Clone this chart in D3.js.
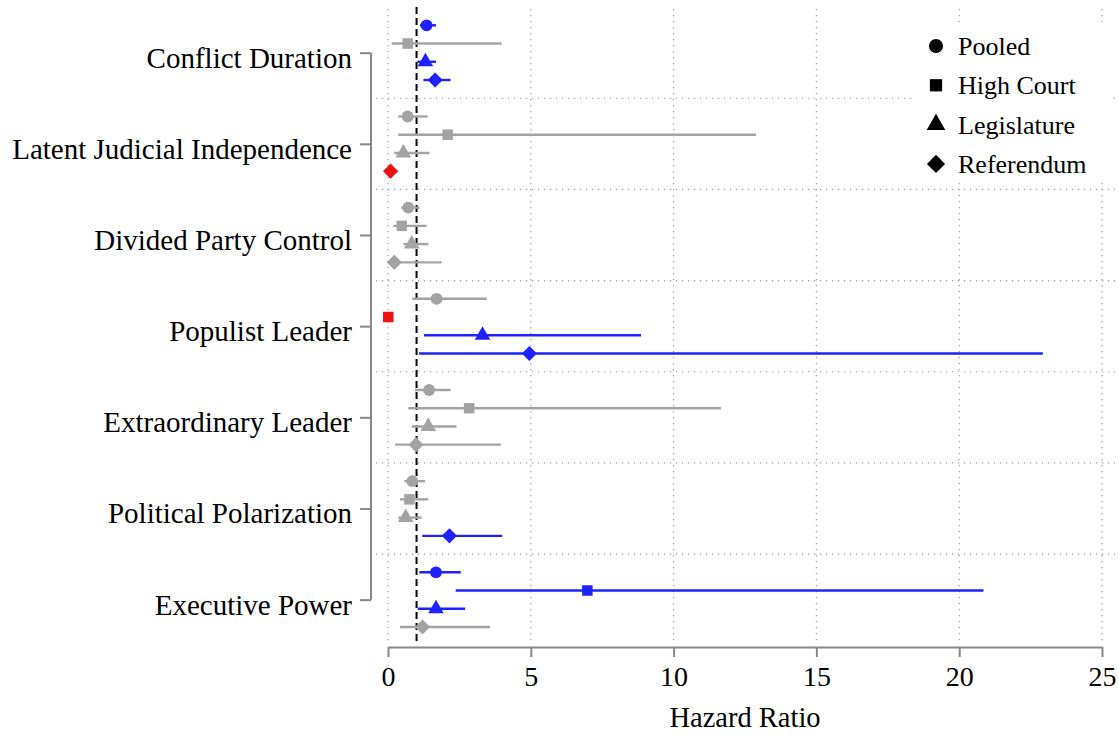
<!DOCTYPE html>
<html>
<head>
<meta charset="utf-8">
<script src="https://cdn.jsdelivr.net/npm/d3@7"></script>
<style>
  body { margin: 0; background: #fff; }
  text { font-family: "Liberation Serif", "DejaVu Serif", serif; fill: #000; }
</style>
</head>
<body>
<svg id="chart" width="1118" height="733"></svg>
<script>
// covariates (top to bottom)
var categories = ["Conflict Duration", "Latent Judicial Independence", "Divided Party Control",
  "Populist Leader", "Extraordinary Leader", "Political Polarization", "Executive Power"];
// models
var series = ["Pooled", "High Court", "Legislature", "Referendum"];
// hazard ratios, one array per model, in category order
var pooledHR      = [1.35, 0.69, 0.71, 1.70, 1.44, 0.85, 1.68];
var pooledLo      = [1.12, 0.36, 0.46, 0.85, 0.95, 0.57, 1.10];
var pooledHi      = [1.68, 1.39, 1.10, 3.46, 2.19, 1.30, 2.55];
var highCourtHR   = [0.69, 2.09, 0.48, 0.01, 2.84, 0.75, 6.98];
var highCourtLo   = [0.13, 0.36, 0.19, 0.00, 0.71, 0.42, 2.37];
var highCourtHi   = [3.98, 12.88, 1.35, 0.02, 11.66, 1.41, 20.85];
var legislatureHR = [1.31, 0.54, 0.83, 3.31, 1.41, 0.62, 1.68];
var legislatureLo = [1.03, 0.22, 0.54, 1.26, 0.83, 0.36, 1.04];
var legislatureHi = [1.68, 1.45, 1.41, 8.86, 2.40, 1.18, 2.70];
var referendumHR  = [1.65, 0.09, 0.22, 4.95, 0.98, 2.15, 1.21];
var referendumLo  = [1.24, 0.02, 0.07, 1.09, 0.25, 1.20, 0.42];
var referendumHi  = [2.19, 0.33, 1.88, 22.93, 3.95, 4.00, 3.57];
var xTicks = [0, 5, 10, 15, 20, 25];

var hr = [pooledHR, highCourtHR, legislatureHR, referendumHR];
var lo = [pooledLo, highCourtLo, legislatureLo, referendumLo];
var hi = [pooledHi, highCourtHi, legislatureHi, referendumHi];

var rows = [];
categories.forEach(function (c, g) {
  series.forEach(function (s, k) {
    rows.push({ cat: c, g: g, k: k, est: hr[k][g], lo: lo[k][g], hi: hi[k][g], pos: g * 5 + k });
  });
});

var svg = d3.select('#chart');
var x = d3.scaleLinear().domain([0, 25]).range([388, 1102]);
var y = d3.scaleLinear().domain([0, 33]).range([25.3, 627]);

// diamond = square turned 45 degrees
var symbols = [d3.symbolCircle, d3.symbolSquare, d3.symbolTriangle, d3.symbolSquare];
var rotations = [0, 0, 0, 45];
var sizes = [110, 110, 105, 115];
var legendSizes = [155, 150, 150, 165];
function colorOf(d) {
  if (d.lo > 1) return "#1f22ff";
  if (d.hi < 1) return "#ee1111";
  return "#a3a3a3";
}

// vertical grid
svg.append('g').selectAll('line').data(xTicks).enter().append('line')
  .attr('x1', function (d) { return x(d); }).attr('x2', function (d) { return x(d); })
  .attr('y1', 9).attr('y2', 641)
  .attr('stroke', '#9a9a9a').attr('stroke-width', 1.2).attr('stroke-dasharray', '1.2,4.8');

// horizontal grid between groups
svg.append('g').selectAll('line').data(d3.range(1, categories.length)).enter().append('line')
  .attr('x1', 376).attr('x2', 1118)
  .attr('y1', function (g) { return y(g * 5 - 1); }).attr('y2', function (g) { return y(g * 5 - 1); })
  .attr('stroke', '#9a9a9a').attr('stroke-width', 1.2).attr('stroke-dasharray', '1.2,4.8');

// reference line at HR = 1
svg.append('line')
  .attr('x1', x(1)).attr('x2', x(1)).attr('y1', 7).attr('y2', 641)
  .attr('stroke', '#000').attr('stroke-width', 2).attr('stroke-dasharray', '7,4');

// confidence intervals
svg.append('g').selectAll('line').data(rows).enter().append('line')
  .attr('x1', function (d) { return x(d.lo); }).attr('x2', function (d) { return x(d.hi); })
  .attr('y1', function (d) { return y(d.pos); }).attr('y2', function (d) { return y(d.pos); })
  .attr('stroke', colorOf).attr('stroke-width', 2.4);

// point estimates
svg.append('g').selectAll('path').data(rows).enter().append('path')
  .attr('transform', function (d) {
    return "translate(" + x(d.est) + "," + y(d.pos) + ") rotate(" + rotations[d.k] + ")";
  })
  .attr('d', function (d) { return d3.symbol().type(symbols[d.k]).size(sizes[d.k])(); })
  .attr('fill', colorOf);

// y axis (bracket style)
var yAxis = d3.axisLeft(y)
  .tickValues(categories.map(function (c, g) { return g * 5 + 1.5; }))
  .tickFormat(function (v) { return categories[(v - 1.5) / 5]; })
  .tickSize(11).tickSizeOuter(0).tickPadding(8);
var ya = svg.append('g').attr('transform', 'translate(371,0)').call(yAxis);
ya.select('.domain').attr('d', 'M0,' + y(1.5) + 'V' + y(31.5)).attr('stroke', '#888').attr('stroke-width', 2);
ya.selectAll('.tick line').attr('stroke', '#888').attr('stroke-width', 2);
ya.selectAll('.tick text').attr('font-size', 29).attr('dy', '0.5em')
  .style('font-family', '"Liberation Serif", serif');

// x axis
var xAxis = d3.axisBottom(x).tickValues(xTicks).tickSize(10).tickSizeOuter(0).tickPadding(9);
var xa = svg.append('g').attr('transform', 'translate(0,647)').call(xAxis);
xa.select('.domain').attr('stroke', '#888').attr('stroke-width', 2);
xa.selectAll('.tick line').attr('stroke', '#888').attr('stroke-width', 2);
xa.selectAll('.tick text').attr('font-size', 28).style('font-family', '"Liberation Serif", serif');

svg.append('text').attr('x', 745).attr('y', 727).attr('text-anchor', 'middle')
  .attr('font-size', 28.5).text('Hazard Ratio');

// legend
var lg = svg.append('g');
lg.append('rect').attr('x', 912).attr('y', 22).attr('width', 200).attr('height', 160).attr('fill', '#fff');
var li = lg.selectAll('g.item').data(series).enter().append('g').attr('class', 'item')
  .attr('transform', function (d, i) { return "translate(0," + (46 + i * 39.3) + ")"; });
li.append('path').attr('transform', function (d, i) { return 'translate(936,0) rotate(' + rotations[i] + ')'; })
  .attr('d', function (d, i) { return d3.symbol().type(symbols[i]).size(legendSizes[i])(); })
  .attr('fill', '#000');
li.append('text').attr('x', 958).attr('dy', '0.35em').attr('font-size', 26).text(function (d) { return d; });
</script>
</body>
</html>
